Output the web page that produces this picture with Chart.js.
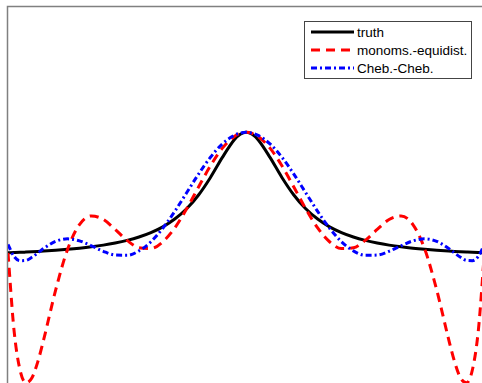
<!DOCTYPE html>
<html>
<head>
<meta charset="utf-8">
<script src="https://cdn.jsdelivr.net/npm/chart.js@4"></script>
<style>
  html, body { margin: 0; padding: 0; background: #fff; overflow: hidden; }
  #wrap { position: relative; width: 482px; height: 383px; }
  #legend {
    position: absolute; left: 304px; top: 21px; width: 166px; height: 56px;
    border: 1px solid #444; background: #fff;
    font-family: "Liberation Sans", Arial, sans-serif; font-size: 13.5px; color: #000;
  }
  #legend .row { position: absolute; left: 0; height: 18px; display: flex; align-items: center; }
  #legend svg { display: block; margin-left: 6px; margin-right: 3px; }
</style>
</head>
<body>
<div id="wrap">
  <canvas id="runge" width="482" height="383"></canvas>
  <div id="legend"></div>
</div>
<script>
// sample positions on [-1, 1]
const xs = [-1, -0.975, -0.95, -0.925, -0.9, -0.875, -0.85, -0.8, -0.75, -0.7, -0.65, -0.6,
  -0.55, -0.5, -0.45, -0.4, -0.35, -0.3, -0.25, -0.2, -0.15, -0.1, -0.05, -0.025, 0,
  0.025, 0.05, 0.1, 0.15, 0.2, 0.25, 0.3, 0.35, 0.4, 0.45, 0.5, 0.55, 0.6, 0.65, 0.7,
  0.75, 0.8, 0.85, 0.875, 0.9, 0.925, 0.95, 0.975, 1];

const truth = [0.0385, 0.0404, 0.0424, 0.0447, 0.0471, 0.0497, 0.0525, 0.0588, 0.0664, 0.0755,
  0.0865, 0.1, 0.117, 0.138, 0.165, 0.2, 0.246, 0.308, 0.39, 0.5, 0.64, 0.8, 0.941, 0.985, 1,
  0.985, 0.941, 0.8, 0.64, 0.5, 0.39, 0.308, 0.246, 0.2, 0.165, 0.138, 0.117, 0.1, 0.0865,
  0.0755, 0.0664, 0.0588, 0.0525, 0.0497, 0.0471, 0.0447, 0.0424, 0.0404, 0.0385];

const monomsEquidist = [0.038, -0.574, -0.892, -0.998, -0.96, -0.831, -0.652, -0.259, 0.066, 0.264,
  0.333, 0.305, 0.225, 0.138, 0.079, 0.073, 0.127, 0.237, 0.39, 0.564, 0.733, 0.874, 0.967, 0.992, 1,
  0.992, 0.967, 0.874, 0.733, 0.564, 0.39, 0.237, 0.127, 0.073, 0.079, 0.138, 0.225, 0.305, 0.333,
  0.264, 0.066, -0.259, -0.652, -0.831, -0.96, -0.998, -0.892, -0.574, 0.038];

const chebCheb = [0.105, 0.011, -0.024, -0.022, 0.003, 0.037, 0.074, 0.13, 0.15, 0.134,
  0.095, 0.051, 0.021, 0.019, 0.054, 0.127, 0.235, 0.369, 0.518, 0.667, 0.801, 0.908, 0.976, 0.994, 1,
  0.994, 0.976, 0.908, 0.801, 0.667, 0.518, 0.369, 0.235, 0.127, 0.054, 0.019, 0.021, 0.051, 0.095,
  0.134, 0.15, 0.13, 0.074, 0.037, 0.003, -0.022, -0.024, 0.011, 0.105];

const seriesLabels = ['truth', 'monoms.-equidist.', 'Cheb.-Cheb.'];

const toPoints = ys => xs.map((x, i) => ({ x, y: ys[i] }));

const styles = [
  { color: '#000000', dash: [], order: 3 },
  { color: '#ff0000', dash: [9, 6], order: 2 },
  { color: '#0000ff', dash: [6, 3, 2, 3], order: 1 },
];

// gray frame on the left and top of the axes box
const frame = {
  id: 'frame',
  beforeDatasetsDraw(chart) {
    const { ctx, chartArea } = chart;
    ctx.save();
    ctx.strokeStyle = '#808080';
    ctx.lineWidth = 1.5;
    ctx.beginPath();
    ctx.moveTo(chartArea.left - 0.5, chartArea.bottom + 5);
    ctx.lineTo(chartArea.left - 0.5, chartArea.top - 0.5);
    ctx.lineTo(chartArea.right + 5, chartArea.top - 0.5);
    ctx.stroke();
    ctx.restore();
  }
};

const chart = new Chart(document.getElementById('runge'), {
  type: 'line',
  data: {
    datasets: [truth, monomsEquidist, chebCheb].map((ys, i) => ({
      label: seriesLabels[i],
      data: toPoints(ys),
      borderColor: styles[i].color,
      borderDash: styles[i].dash,
      borderWidth: 3,
      pointRadius: 0,
      fill: false,
      cubicInterpolationMode: 'monotone',
      order: styles[i].order,
    })),
  },
  options: {
    responsive: false,
    animation: false,
    devicePixelRatio: 1,
    layout: { padding: { left: 8, top: 7, right: 0, bottom: 0 } },
    plugins: { legend: { display: false }, tooltip: { enabled: false } },
    scales: {
      x: { type: 'linear', min: -1, max: 0.99, display: false },
      y: { min: -1, max: 2, display: false },
    },
  },
  plugins: [frame],
});

// legend drawn as html so the labels stay text
const legend = document.getElementById('legend');
chart.data.datasets.forEach((ds, i) => {
  const row = document.createElement('div');
  row.className = 'row';
  row.style.top = (1 + i * 18) + 'px';
  const dash = ds.borderDash.length ? ds.borderDash.join(' ') : 'none';
  row.innerHTML = `<svg width="43" height="6"><line x1="0" y1="3" x2="43" y2="3" stroke="${ds.borderColor}" stroke-width="3" stroke-dasharray="${dash}"/></svg><span>${ds.label}</span>`;
  legend.appendChild(row);
});
</script>
</body>
</html>
